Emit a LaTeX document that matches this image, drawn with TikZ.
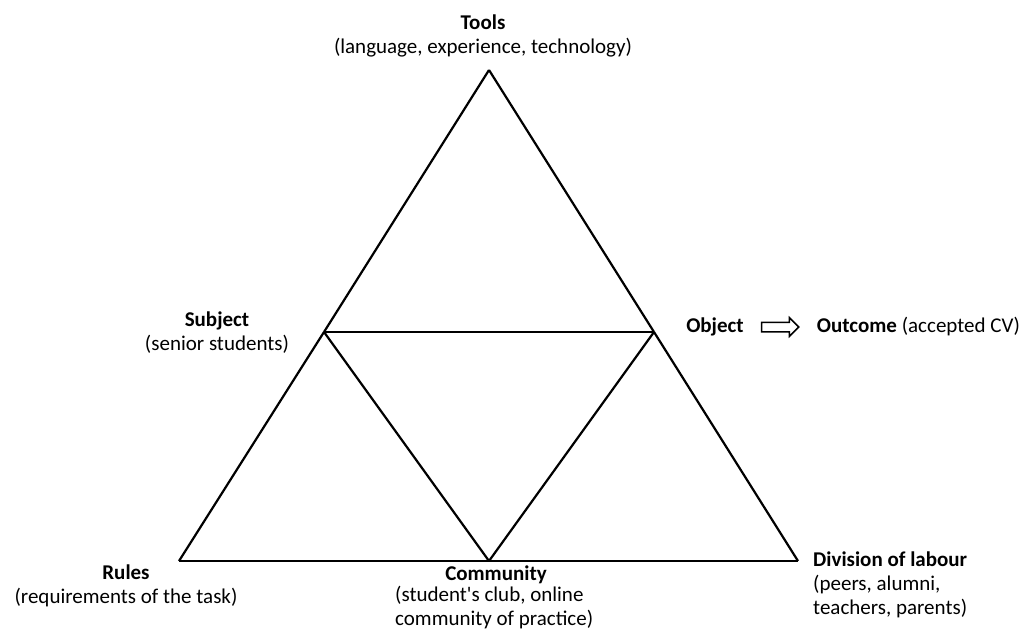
\documentclass[tikz,border=0pt]{standalone}
\usepackage{fontspec}
\setmainfont{Carlito}
\usetikzlibrary{shapes.arrows,positioning}
\tikzstyle{corner}=[coordinate]
\tikzstyle{edge} = [draw,line width=2.2pt,line join=miter]
\tikzstyle{txt} = [inner sep=0pt,font=\fontsize{21}{24}\selectfont]
\tikzstyle{goes} = [single arrow,draw,line width=1.5pt,inner sep=4pt,
    minimum height=37pt,single arrow head extend=4.5pt,single arrow head indent=0pt]

\begin{document}
\begin{tikzpicture}[x=1pt,y=-1pt]
    \useasboundingbox (0,0) rectangle (1020,631);
    \foreach \pos/\name in {{(489,70)/top}, {(324,332)/subj},
    {(654,332)/obj},{(179,561)/rules},{(489,561)/comm},{(798,561)/div}}
        \node[corner] (\name) at \pos {};

    \foreach \source/ \dest in
    {top/subj,subj/rules,rules/comm,comm/div,div/obj,obj/top,subj/obj,subj/comm,obj/comm}
        \path[edge] (\source) -- (\dest);

    % labels
    \node[txt,align=center] (tools) at (483,36) {\textbf{Tools}\\(language, experience, technology)};
    \node[txt,align=center] (subject) at (217,333) {\textbf{Subject}\\(senior students)};
    \node[txt] (object) at (715,327) {\textbf{Object}};
    \node[goes] (arrow) [right=17pt of object] {};
    \node[txt] (outcome) [right=17pt of arrow] {\textbf{Outcome} (accepted CV)};
    \node[txt,align=center] (rulestxt) at (126,586) {\textbf{Rules}\\(requirements of the task)};
    \node[txt] (community) at (496,575) {\textbf{Community}};
    \node[txt,align=left,anchor=west] (communitytxt) at (395,608) {(student\textquotesingle s club, online\\community of practice)};
    \node[txt,align=left,anchor=west] (divtxt) at (813,585) {\textbf{Division of labour}\\(peers, alumni,\\teachers, parents)};
\end{tikzpicture}
\end{document}
